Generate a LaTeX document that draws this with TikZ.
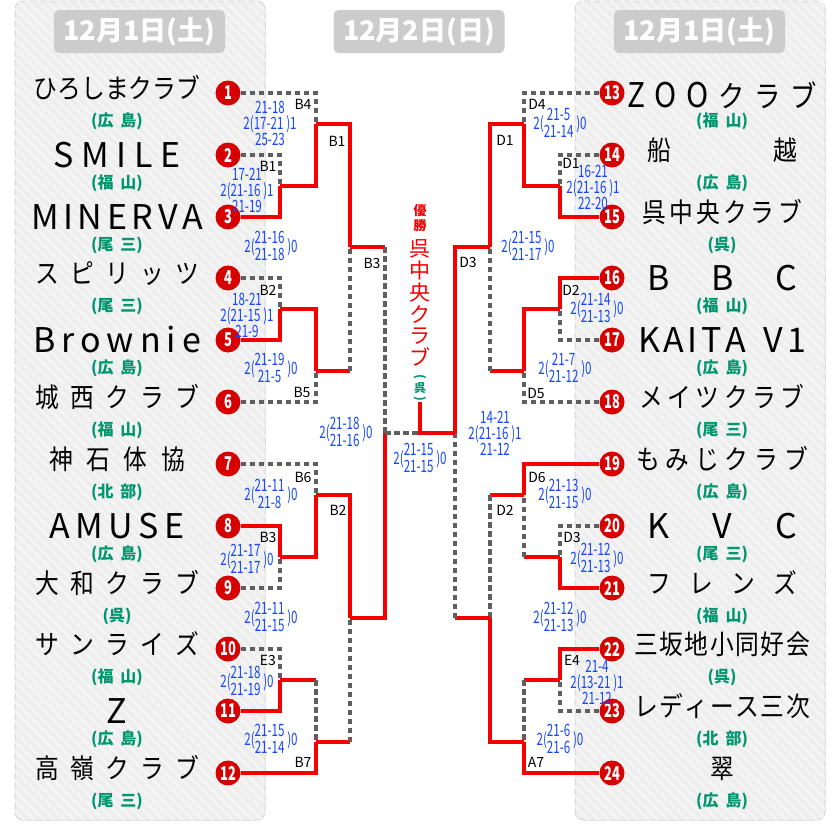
\documentclass[tikz,border=0pt]{standalone}
\usepackage{fontspec}
\setmainfont{Noto Sans CJK JP}
\newfontfamily\cnd[FakeStretch=0.68]{Noto Sans CJK JP}
\newfontfamily\nmfont[FakeStretch=0.88]{Noto Sans CJK JP}
\usetikzlibrary{patterns.meta}
\definecolor{numred}{RGB}{214,0,0}
\definecolor{winred}{RGB}{245,0,0}
\definecolor{losegray}{RGB}{95,95,95}
\definecolor{scoreblue}{RGB}{20,70,255}
\definecolor{subgreen}{RGB}{0,150,110}
\definecolor{badgegray}{RGB}{204,204,204}
\definecolor{panelfill}{RGB}{238,238,238}
\definecolor{panelstripe}{RGB}{245,245,245}
\definecolor{paneledge}{RGB}{216,216,216}
\newcommand\spr[2]{\makebox[#1pt]{#2}}
\newcommand\stk[2]{2(\begin{tabular}{@{}c@{}}#1\\#2\end{tabular}\,)0}
\newcommand\lat{\fontsize{34}{34}\selectfont}
\newcommand\sgap{\hspace{7pt}}
\begin{document}
\begin{tikzpicture}[x=1pt,y=-1pt,
  win/.style={draw=winred, line width=3.1pt},
  lose/.style={draw=losegray, line width=3.3pt, dash pattern={on 5.5pt off 3.5pt}},
  num/.style={circle, fill=numred, text=white, minimum size=25pt, inner sep=0pt, font=\cnd\bfseries\fontsize{19}{19}\selectfont},
  nmj/.style={anchor=base, inner sep=0pt, font=\nmfont\fontsize{27}{27}\selectfont},
  nml/.style={anchor=base, inner sep=0pt, font=\fontsize{34}{34}\selectfont},
  sub/.style={anchor=base, inner sep=0pt, text=subgreen, font=\bfseries\fontsize{16}{16}\selectfont},
  sc/.style={inner sep=0pt, text=scoreblue, align=center, font=\cnd\fontsize{17}{16}\selectfont},
  stack/.style={inner sep=0pt, text=scoreblue, font=\cnd\fontsize{17}{15}\selectfont},
  lb/.style={inner sep=0pt, font=\fontsize{14}{14}\selectfont},
  badge/.style={fill=badgegray, rounded corners=5pt, minimum width=171pt, minimum height=43pt, inner sep=0pt, text=white, font=\bfseries\fontsize{27}{27}\selectfont},
  panel/.style={fill=panelfill, draw=paneledge, line width=1pt, rounded corners=8pt,
    postaction={pattern={Lines[angle=-45,distance=7pt,line width=2.5pt]}, pattern color=panelstripe}}
]
\useasboundingbox (0,0) rectangle (840,835);
% panels
\path[panel] (15,1) rectangle (265,820);
\path[panel] (575,1) rectangle (825,820);
% headers
\node[badge] (h1) at (139.5,31.5) {12月1日(土)};
\node[badge] (h2) at (419,31.5) {12月2日(日)};
\node[badge] (h3) at (699.5,31.5) {12月1日(土)};

% team circles
\foreach \i/\y in {1/93,2/155,3/217,4/278,5/340,6/402,7/464,8/526,9/588,10/649,11/711,12/773}{
  \node[num] (t\i) at (228,\y) {\i};
}
\foreach \i/\y in {13/93,14/155,15/217,16/278,17/340,18/402,19/464,20/526,21/588,22/649,23/711,24/773}{
  \node[num] (t\i) at (612,\y) {\i};
}

% left names
\node[nmj] (n1) at (117,98) {ひろしまクラブ};
\node[nml] (n2) at (117,167.5) {\spr{127}{S\hfill M\hfill I\hfill L\hfill E}};
\node[nml] (n3) at (117,229.5) {\spr{172}{M\hfill I\hfill N\hfill E\hfill R\hfill V\hfill A}};
\node[nmj] (n4) at (117,283) {\spr{164}{ス\hfill ピ\hfill リ\hfill ッ\hfill ツ}};
\node[nml] (n5) at (117,352.5) {\spr{168}{B\hfill r\hfill o\hfill w\hfill n\hfill i\hfill e}};
\node[nmj] (n6) at (117,407) {\spr{164}{城\hfill 西\hfill ク\hfill ラ\hfill ブ}};
\node[nmj] (n7) at (117,469) {\spr{136}{神\hfill 石\hfill 体\hfill 協}};
\node[nml] (n8) at (117,538.5) {\spr{135}{A\hfill M\hfill U\hfill S\hfill E}};
\node[nmj] (n9) at (117,593) {\spr{164}{大\hfill 和\hfill ク\hfill ラ\hfill ブ}};
\node[nmj] (n10) at (117,654) {\spr{164}{サ\hfill ン\hfill ラ\hfill イ\hfill ズ}};
\node[nml] (n11) at (117,723.5) {Z};
\node[nmj] (n12) at (117,778) {\spr{164}{高\hfill 嶺\hfill ク\hfill ラ\hfill ブ}};
% right names
\node[nmj, font=\nmfont\fontsize{30}{30}\selectfont] (n13) at (722,107) {\spr{190}{{\lat Z}\hfill{\lat O}\hfill{\lat O}\hfill ク\hfill ラ\hfill ブ}};
\node[nmj] (n14) at (722,160) {\spr{150}{船\hfill 越}};
\node[nmj] (n15) at (722,222) {\spr{160}{呉\hfill 中\hfill 央\hfill ク\hfill ラ\hfill ブ}};
\node[nml] (n16) at (722,290.5) {\spr{150}{B\hfill B\hfill C}};
\node[nml] (n17) at (722,352.5) {\spr{168}{K\hfill A\hfill I\hfill T\hfill A\hspace{14pt}\hfill V\hfill 1}};
\node[nmj] (n18) at (722,407) {\spr{165}{メ\hfill イ\hfill ツ\hfill ク\hfill ラ\hfill ブ}};
\node[nmj] (n19) at (722,469) {\spr{172}{も\hfill み\hfill じ\hfill ク\hfill ラ\hfill ブ}};
\node[nml] (n20) at (722,538.5) {\spr{150}{K\hfill V\hfill C}};
\node[nmj] (n21) at (722,593) {\spr{150}{フ\hfill レ\hfill ン\hfill ズ}};
\node[nmj] (n22) at (722,654) {\spr{176}{三\hfill 坂\hfill 地\hfill 小\hfill 同\hfill 好\hfill 会}};
\node[nmj] (n23) at (722,716) {\spr{176}{レ\hfill デ\hfill ィ\hfill ー\hfill ス\hfill 三\hfill 次}};
\node[nmj] (n24) at (722,778) {翠};

% subtitles
\foreach \i/\y/\s in {1/93/広\sgap 島,2/155/福\sgap 山,3/217/尾\sgap 三,4/278/尾\sgap 三,5/340/広\sgap 島,6/402/福\sgap 山,7/464/北\sgap 部,8/526/広\sgap 島,9/588/呉,10/649/福\sgap 山,11/711/広\sgap 島,12/773/尾\sgap 三}{
  \node[sub] (s\i) at (117,\y+33) {(\s)};
}
\foreach \i/\y/\s in {13/93/福\sgap 山,14/155/広\sgap 島,15/217/呉,16/278/福\sgap 山,17/340/広\sgap 島,18/402/尾\sgap 三,19/464/広\sgap 島,20/526/尾\sgap 三,21/588/福\sgap 山,22/649/呉,23/711/北\sgap 部,24/773/広\sgap 島}{
  \node[sub] (s\i) at (722,\y+33) {(\s)};
}

% junctions left
\coordinate (jL1) at (280,186);
\coordinate (jL2) at (316,124);
\coordinate (jL3) at (280,309);
\coordinate (jL4) at (316,371);
\coordinate (jL5) at (350,247);
\coordinate (jL6) at (280,557);
\coordinate (jL7) at (316,495);
\coordinate (jL8) at (280,680);
\coordinate (jL9) at (316,742);
\coordinate (jL10) at (350,618);
\coordinate (jL11) at (385,433);
% junctions right
\coordinate (jR1) at (560,186);
\coordinate (jR2) at (524,124);
\coordinate (jR3) at (560,309);
\coordinate (jR4) at (524,371);
\coordinate (jR5) at (490,247);
\coordinate (jR6) at (560,557);
\coordinate (jR7) at (524,495);
\coordinate (jR8) at (560,680);
\coordinate (jR9) at (524,742);
\coordinate (jR10) at (490,618);
\coordinate (jR11) at (455,433);
\coordinate (F) at (420,433);
\coordinate (champbot) at (420,402);

% left bracket
\draw[lose] (t1.east) -| (jL2);
\draw[lose] (t2.east) -| (jL1);
\draw[win] (t3.east) -| (jL1);
\draw[win] (jL1) -| (jL2);
\draw[win] (jL2) -| (jL5);
\draw[lose] (t4.east) -| (jL3);
\draw[win] (t5.east) -| (jL3);
\draw[win] (jL3) -| (jL4);
\draw[lose] (t6.east) -| (jL4);
\draw[win] (jL4) -- (jL4 -| jL5);
\draw[lose] (jL4 -| jL5) -- (jL5);
\draw[win] (jL5) -- (jL5 -| jL11);
\draw[lose] (jL5 -| jL11) -- (jL11);
\draw[lose] (t7.east) -| (jL7);
\draw[win] (t8.east) -| (jL6);
\draw[lose] (t9.east) -| (jL6);
\draw[win] (jL6) -| (jL7);
\draw[win] (jL7) -| (jL10);
\draw[lose] (t10.east) -| (jL8);
\draw[win] (t11.east) -| (jL8);
\draw[win] (jL8) -- (jL8 -| jL9);
\draw[lose] (jL8 -| jL9) -- (jL9);
\draw[win] (t12.east) -| (jL9);
\draw[win] (jL9) -- (jL9 -| jL10);
\draw[lose] (jL9 -| jL10) -- (jL10);
\draw[win] (jL10) -| (jL11);
\draw[lose] (jL11) -- (F);
% right bracket
\draw[lose] (t13.west) -| (jR2);
\draw[lose] (t14.west) -| (jR1);
\draw[win] (t15.west) -| (jR1);
\draw[win] (jR1) -| (jR2);
\draw[win] (jR2) -| (jR5);
\draw[win] (t16.west) -| (jR3);
\draw[lose] (t17.west) -| (jR3);
\draw[win] (jR3) -| (jR4);
\draw[lose] (t18.west) -| (jR4);
\draw[win] (jR4) -- (jR4 -| jR5);
\draw[lose] (jR4 -| jR5) -- (jR5);
\draw[win] (jR5) -| (jR11);
\draw[win] (t19.west) -| (jR7);
\draw[lose] (t20.west) -| (jR6);
\draw[win] (t21.west) -| (jR6);
\draw[win] (jR6) -- (jR6 -| jR7);
\draw[lose] (jR6 -| jR7) -- (jR7);
\draw[win] (jR7) -- (jR7 -| jR10);
\draw[lose] (jR7 -| jR10) -- (jR10);
\draw[win] (t22.west) -| (jR8);
\draw[lose] (t23.west) -| (jR8);
\draw[win] (jR8) -- (jR8 -| jR9);
\draw[lose] (jR8 -| jR9) -- (jR9);
\draw[win] (t24.west) -| (jR9);
\draw[win] (jR9) -| (jR10);
\draw[win] (jR10) -- (jR10 -| jR11);
\draw[lose] (jR10 -| jR11) -- (jR11);
\draw[win] (jR11) -- (F) -- (champbot);

% champion
\node[inner sep=0pt, text=winred, align=center, font=\bfseries\fontsize{13}{15}\selectfont] (yu) at (420,218) {優\\勝};
\node[inner sep=0pt, text=winred, align=center, font=\fontsize{21}{21.8}\selectfont] (champ) at (420,303) {呉\\中\\央\\ク\\ラ\\ブ};
\node[inner sep=0pt, text=subgreen, font=\bfseries\fontsize{12}{12}\selectfont] (cp1) at (420,377) {\rotatebox{-90}{(}};
\node[inner sep=0pt, text=subgreen, font=\bfseries\fontsize{12}{12}\selectfont] (cp2) at (420,388) {呉};
\node[inner sep=0pt, text=subgreen, font=\bfseries\fontsize{12}{12}\selectfont] (cp3) at (420,399) {\rotatebox{-90}{)}};

% match labels
\foreach \t/\x/\y [count=\k] in {B4/303/104,B1/337/141,B1/268/166,B3/372/263,B2/268/290,B5/302/392,B6/303/477,B2/338/510,B3/268/537,E3/268/660,B7/303/762,
  D4/537/104,D1/505/140,D1/571/163,D3/468/262,D2/571/290,D5/536/393,D6/537/477,D2/505/510,D3/572/537,E4/572/660,A7/536/762}{
  \node[lb] (lab\k) at (\x,\y) {\t};
}

% scores left
\node[sc] (sa1) at (270,123.5) {21-18\\2(17-21\,)1\\25-23};
\node[sc] (sa2) at (247,190) {17-21\\2(21-16\,)1\\21-19};
\node[stack] (sa3) at (271,248) {\stk{21-16}{21-18}};
\node[sc] (sa4) at (247,315) {18-21\\2(21-15\,)1\\21-9};
\node[stack] (sa5) at (271,370) {\stk{21-19}{21-5}};
\node[stack] (sa6) at (346,434) {\stk{21-18}{21-16}};
\node[stack] (sa7) at (271,496) {\stk{21-11}{21-8}};
\node[stack] (sa8) at (247,561) {\stk{21-17}{21-17}};
\node[stack] (sa9) at (271,619) {\stk{21-11}{21-15}};
\node[stack] (sa10) at (247,683) {\stk{21-18}{21-19}};
\node[stack] (sa11) at (271,741) {\stk{21-15}{21-14}};
% final
\node[stack] (sf) at (420,460) {\stk{21-15}{21-15}};
% scores right
\node[sc] (sb0) at (495,433) {14-21\\2(21-16\,)1\\21-12};
\node[stack] (sb1) at (560,125) {\stk{21-5}{21-14}};
\node[sc] (sb2) at (593,187) {16-21\\2(21-16\,)1\\22-20};
\node[stack] (sb3) at (528,248) {\stk{21-15}{21-17}};
\node[stack] (sb4) at (597,310) {\stk{21-14}{21-13}};
\node[stack] (sb5) at (565,370) {\stk{21-7}{21-12}};
\node[stack] (sb6) at (565,496) {\stk{21-13}{21-15}};
\node[stack] (sb7) at (597,560) {\stk{21-12}{21-13}};
\node[stack] (sb8) at (560,619) {\stk{21-12}{21-13}};
\node[sc] (sb9) at (597,682) {21-4\\2(13-21\,)1\\21-12};
\node[stack] (sb10) at (560,741) {\stk{21-6}{21-6}};
\end{tikzpicture}
\end{document}
